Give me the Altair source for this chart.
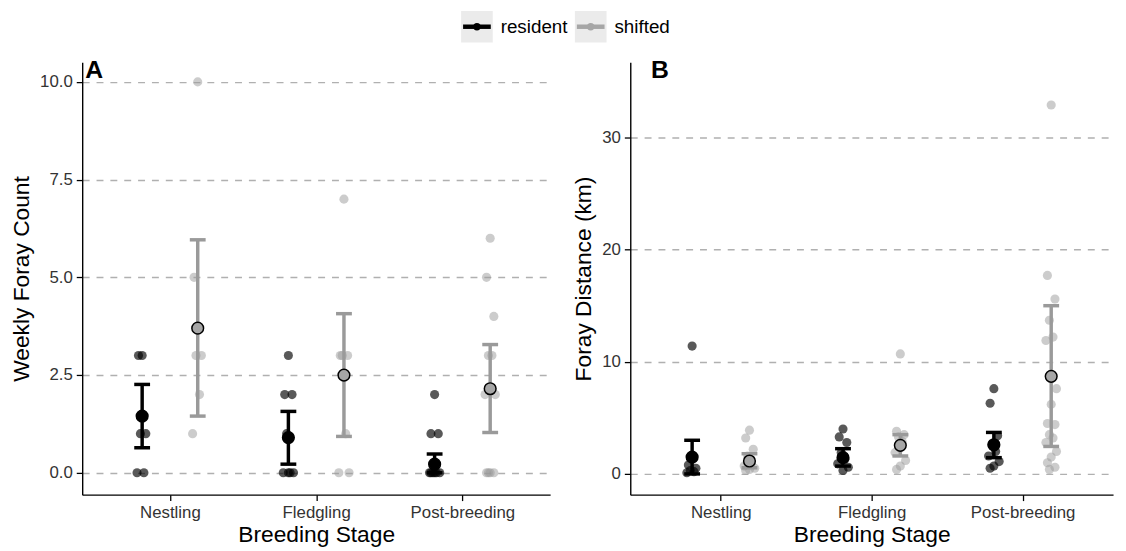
import altair as alt
import pandas as pd

FONT = "Liberation Sans"

stages = ["Nestling", "Fledgling", "Post-breeding"]
groups = ["resident", "shifted"]

# Panel A: weekly foray counts (individual observations)
count_resident_nestling = [3, 3, 1, 1, 0, 0]
count_resident_fledgling = [3, 2, 2, 1, 0, 0, 0, 0]
count_resident_post = [2, 1, 1, 0, 0, 0, 0, 0, 0]
count_shifted_nestling = [10, 5, 3, 3, 2, 1]
count_shifted_fledgling = [7, 3, 3, 3, 1, 0, 0]
count_shifted_post = [6, 5, 4, 3, 3, 2, 2, 0, 0, 0, 0]

# Panel A: means and error bars (Nestling, Fledgling, Post-breeding)
count_resident_mean = [1.45, 0.90, 0.22]
count_resident_lo = [0.64, 0.22, 0.00]
count_resident_hi = [2.26, 1.57, 0.48]
count_shifted_mean = [3.70, 2.50, 2.15]
count_shifted_lo = [1.45, 0.93, 1.03]
count_shifted_hi = [5.96, 4.07, 3.28]

# Panel B: foray distances (km)
dist_resident_nestling = [11.4, 0.8, 0.5, 0.3, 0.2, 0.1]
dist_resident_fledgling = [4.0, 3.3, 2.8, 1.9, 1.3, 0.9, 0.6, 0.3]
dist_resident_post = [7.6, 6.3, 3.4, 2.6, 2.0, 1.6, 1.1, 0.7, 0.5]
dist_shifted_nestling = [3.9, 3.2, 2.2, 1.6, 1.0, 0.7, 0.5, 0.4, 0.3]
dist_shifted_fledgling = [10.7, 3.8, 3.5, 3.3, 2.9, 1.9, 1.2, 0.7, 0.4]
dist_shifted_post = [32.9, 17.7, 15.6, 13.7, 12.2, 11.9, 7.6, 6.2, 4.5, 4.4,
                     3.5, 3.2, 2.8, 2.0, 1.5, 1.0, 0.6, 0.4]

dist_resident_mean = [1.50, 1.45, 2.60]
dist_resident_lo = [0.00, 0.70, 1.45]
dist_resident_hi = [3.00, 2.25, 3.70]
dist_shifted_mean = [1.15, 2.55, 8.70]
dist_shifted_lo = [0.55, 1.60, 2.45]
dist_shifted_hi = [1.80, 3.50, 15.00]

DODGE = {"resident": -0.19, "shifted": 0.19}
JIT = [0.0, -0.025, 0.025, -0.012, 0.012, -0.035, 0.035]


def points_df(res_lists, shf_lists):
    rows = []
    for g, lists in (("resident", res_lists), ("shifted", shf_lists)):
        for si, vals in enumerate(lists):
            for k, v in enumerate(vals):
                rows.append({"stage": stages[si], "group": g, "value": v,
                             "xpos": si + 1 + DODGE[g] + JIT[k % len(JIT)]})
    return pd.DataFrame(rows)


def summary_df(rm, rl, rh, sm, sl, sh):
    rows = []
    for g, (m, lo, hi) in (("resident", (rm, rl, rh)), ("shifted", (sm, sl, sh))):
        for si in range(3):
            rows.append({"stage": stages[si], "group": g, "mean": m[si],
                         "lo": lo[si], "hi": hi[si], "xpos": si + 1 + DODGE[g]})
    return pd.DataFrame(rows)


pts_A = points_df([count_resident_nestling, count_resident_fledgling, count_resident_post],
                  [count_shifted_nestling, count_shifted_fledgling, count_shifted_post])
sum_A = summary_df(count_resident_mean, count_resident_lo, count_resident_hi,
                   count_shifted_mean, count_shifted_lo, count_shifted_hi)
pts_B = points_df([dist_resident_nestling, dist_resident_fledgling, dist_resident_post],
                  [dist_shifted_nestling, dist_shifted_fledgling, dist_shifted_post])
sum_B = summary_df(dist_resident_mean, dist_resident_lo, dist_resident_hi,
                   dist_shifted_mean, dist_shifted_lo, dist_shifted_hi)

pt_color = alt.Scale(domain=groups, range=["#000000", "#9a9a9a"])
pt_opacity = alt.Scale(domain=groups, range=[0.65, 0.5])
bar_color = alt.Scale(domain=groups, range=["#000000", "#a6a6a6"])
mean_fill = alt.Scale(domain=groups, range=["#000000", "#a6a6a6"])

LABEL_EXPR = ("datum.value == 1 ? 'Nestling' : datum.value == 2 ? 'Fledgling' : "
              "datum.value == 3 ? 'Post-breeding' : ''")


def panel(points, summary, ytitle, ydomain, yticks, yfmt, tag, tag_dx, width):
    xs = alt.Scale(domain=[0.4, 3.6], nice=False, zero=False)
    xaxis = alt.Axis(values=[1, 2, 3], labelExpr=LABEL_EXPR, grid=False)
    ys = alt.Scale(domain=ydomain, nice=False, zero=False)
    yaxis = alt.Axis(values=yticks, format=yfmt, grid=True, gridDash=[7, 7],
                     gridColor="#b0b0b0", gridWidth=1.5)
    X = lambda f: alt.X(f, scale=xs, axis=xaxis, title="Breeding Stage")
    Y = lambda f: alt.Y(f, scale=ys, axis=yaxis, title=ytitle)

    pts = alt.Chart(points).mark_circle(size=85).encode(
        x=X("xpos:Q"), y=Y("value:Q"),
        color=alt.Color("group:N", scale=pt_color, legend=None),
        opacity=alt.Opacity("group:N", scale=pt_opacity, legend=None),
    )
    bars = alt.Chart(summary).mark_rule(strokeWidth=3.5).encode(
        x=X("xpos:Q"), y=Y("lo:Q"), y2="hi:Q",
        color=alt.Color("group:N", scale=bar_color, legend=None),
    )
    caps = alt.Chart(summary).transform_fold(["lo", "hi"], as_=["which", "capv"]).mark_tick(
        orient="horizontal", size=16, thickness=3.5, opacity=1
    ).encode(
        x=X("xpos:Q"), y=Y("capv:Q"),
        color=alt.Color("group:N", scale=bar_color, legend=None),
    )
    means = alt.Chart(summary).mark_circle(size=140, stroke="black", strokeWidth=1.5,
                                           opacity=1).encode(
        x=X("xpos:Q"), y=Y("mean:Q"),
        fill=alt.Fill("group:N", scale=mean_fill, legend=None),
    )
    label = alt.Chart(pd.DataFrame({"t": [tag]})).mark_text(
        align="left", baseline="top", fontSize=25, fontWeight="bold", font=FONT,
        color="black"
    ).encode(text="t:N", x=alt.value(tag_dx), y=alt.value(-4))
    return alt.layer(pts, bars, caps, means, label).properties(width=width, height=437)


panel_A = panel(pts_A, sum_A, "Weekly Foray Count", [-0.56, 10.5],
                [0, 2.5, 5, 7.5, 10], ".1f", "A", 3, 473)
panel_B = panel(pts_B, sum_B, "Foray Distance (km)", [-1.85, 36.7],
                [0, 10, 20, 30], "d", "B", 21, 488)

# Legend drawn as a small chart
leg_df = pd.DataFrame({"group": groups, "k": [0, 1]})
lx = alt.X("k:Q", scale=alt.Scale(domain=[0, 1], range=[17, 132], nice=False, zero=False),
           axis=None)
leg_base = alt.Chart(leg_df).encode(x=lx, y=alt.value(16))
leg_sq = leg_base.mark_square(size=1024, color="#ebebeb", opacity=1)
leg_line = leg_base.mark_tick(orient="horizontal", size=28, thickness=4.5, opacity=1).encode(
    color=alt.Color("group:N", scale=alt.Scale(domain=groups, range=["#000000", "#a6a6a6"]),
                    legend=None))
leg_dot = leg_base.mark_circle(size=55, opacity=1).encode(
    color=alt.Color("group:N", scale=alt.Scale(domain=groups, range=["#333333", "#bdbdbd"]),
                    legend=None))
leg_txt = leg_base.mark_text(align="left", baseline="middle", dx=24, fontSize=19,
                             font=FONT, color="black").encode(text="group:N")
legend_chart = alt.layer(leg_sq, leg_line, leg_dot, leg_txt).properties(width=278, height=32)

panels = alt.hconcat(panel_A, panel_B, spacing=23).resolve_scale(
    x="independent", y="independent", color="independent", fill="independent",
    opacity="independent")

chart = alt.vconcat(legend_chart, panels, spacing=16, center=True).resolve_scale(
    x="independent", y="independent", color="independent"
).properties(
    padding={"left": 2, "top": 0, "right": 5, "bottom": 0}
).configure_view(stroke=None).configure_axis(
    labelFont=FONT, titleFont=FONT, labelFontSize=17, titleFontSize=23,
    labelColor="#333333", titleColor="black", titleFontWeight="normal",
    domainColor="black", domainWidth=1.4, tickColor="black", tickWidth=1.3, tickSize=6,
    labelPadding=4,
).configure_axisY(titlePadding=6).configure_axisX(titlePadding=3, labelPadding=4)

chart.save("out.html", embed_options={"renderer": "svg", "actions": False})
